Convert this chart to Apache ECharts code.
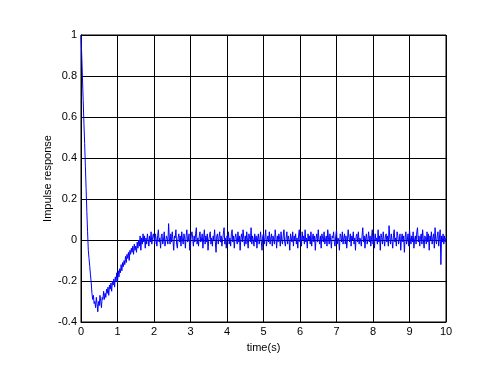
<!DOCTYPE html>
<html>
<head>
<meta charset="utf-8">
<script src="https://cdn.jsdelivr.net/npm/echarts@6/dist/echarts.min.js"></script>
<style>html,body{margin:0;padding:0;background:#fff;}#c{width:500px;height:367px;}</style>
</head>
<body>
<div id="c"></div>
<script>
// time step of the sampled response (s)
const timeStep = 0.02;
// transient part, t = 0 .. 1.98 s
const transientValues = [
  1.0, 0.9, 0.79, 0.68, 0.57, 0.47, 0.36, 0.25, 0.14, 0.04,
  -0.05, -0.09, -0.13, -0.17, -0.21, -0.26, -0.29, -0.27, -0.31, -0.3,
  -0.33, -0.28, -0.31, -0.35, -0.3, -0.32, -0.27, -0.3, -0.33, -0.28,
  -0.29, -0.25, -0.29, -0.26, -0.28, -0.24, -0.26, -0.23, -0.27, -0.22,
  -0.24, -0.21, -0.25, -0.2, -0.22, -0.19, -0.23, -0.18, -0.2, -0.16,
  -0.21, -0.15, -0.18, -0.14, -0.16, -0.12, -0.15, -0.11, -0.13, -0.1,
  -0.12, -0.08, -0.11, -0.07, -0.09, -0.06, -0.1, -0.05, -0.07, -0.04,
  -0.06, -0.03, -0.07, -0.02, -0.05, -0.03, -0.06, -0.01, -0.04, 0.0,
  -0.03, 0.02, -0.05, 0.01, -0.02, 0.03, -0.01, 0.02, -0.04, 0.01,
  -0.02, 0.03, 0.0, -0.03, 0.02, -0.01, 0.04, -0.02, 0.01, 0.03
];
// steady-state noise, t = 2.00 .. 10.00 s
const steadyValues = [
  0.01, -0.02, 0.03, 0.00, -0.03, 0.02, 0.05, -0.01, 0.01, -0.04, 0.02, 0.03, -0.02, 0.00, 0.04, -0.03, -0.01, 0.02, 0.01, -0.02,
  0.08, 0.01, -0.02, 0.03, -0.01, 0.04, 0.00, -0.05, 0.02, 0.01, 0.05, -0.02, -0.04, 0.01, 0.03, -0.01, 0.02, -0.03, 0.04, 0.00,
  -0.02, 0.03, 0.01, -0.04, 0.02, 0.05, -0.01, 0.00, 0.03, -0.05, -0.02, 0.02, 0.04, 0.01, -0.03, 0.02, -0.01, 0.03, 0.06, -0.02,
  0.01, -0.03, 0.02, 0.04, -0.01, 0.00, 0.03, -0.04, 0.01, 0.05, -0.02, 0.02, -0.01, 0.03, -0.05, 0.00, 0.02, 0.04, -0.02, 0.01,
  -0.03, 0.02, 0.00, 0.05, -0.01, -0.06, 0.02, 0.03, -0.02, 0.01, 0.04, -0.01, 0.02, -0.03, 0.00, 0.03, 0.06, -0.02, 0.01, -0.04,
  0.02, 0.00, 0.04, -0.02, 0.01, -0.03, 0.03, 0.05, -0.01, 0.02, -0.04, 0.01, 0.03, 0.00, -0.02, 0.04, -0.01, 0.02, -0.05, 0.01,
  0.03, -0.01, 0.05, 0.01, -0.03, 0.02, -0.02, 0.04, 0.00, -0.04, 0.03, 0.01, -0.01, 0.06, -0.02, 0.02, 0.00, -0.03, 0.03, -0.01,
  0.02, -0.04, 0.01, 0.03, -0.02, 0.00, 0.04, -0.01, -0.05, 0.02, 0.03, -0.02, 0.01, 0.05, -0.03, 0.00, 0.02, -0.01, 0.04, -0.02,
  0.01, 0.03, -0.03, 0.02, 0.00, -0.02, 0.05, 0.01, -0.04, 0.02, -0.01, 0.03, 0.01, -0.03, 0.04, 0.00, -0.02, 0.02, 0.05, -0.01,
  -0.03, 0.01, 0.04, -0.02, 0.02, 0.00, -0.05, 0.03, 0.01, -0.01, 0.04, -0.03, 0.02, 0.00, 0.03, -0.02, 0.01, -0.04, 0.02, 0.05,
  -0.01, 0.02, -0.03, 0.04, 0.00, 0.02, -0.02, 0.05, -0.01, 0.01, -0.04, 0.03, 0.00, 0.02, -0.02, 0.04, -0.03, 0.01, 0.03, -0.01,
  0.02, -0.05, 0.01, 0.03, -0.01, 0.05, 0.00, -0.02, 0.02, -0.04, 0.03, 0.01, -0.01, 0.04, -0.02, 0.00, 0.02, -0.03, 0.05, 0.01,
  -0.02, 0.03, 0.00, -0.04, 0.02, 0.01, 0.04, -0.01, -0.03, 0.02, 0.05, -0.02, 0.01, 0.00, -0.05, 0.03, 0.02, -0.01, 0.04, -0.02,
  0.01, 0.03, -0.02, 0.02, -0.04, 0.00, 0.05, 0.01, -0.01, 0.03, -0.03, 0.02, 0.00, 0.04, -0.02, 0.01, -0.05, 0.02, 0.03, -0.01,
  0.04, -0.02, 0.01, 0.00, -0.03, 0.02, 0.06, -0.01, 0.02, -0.04, 0.01, 0.03, -0.02, 0.00, 0.04, -0.01, 0.02, -0.03, 0.01, 0.05,
  -0.02, 0.02, -0.04, 0.03, 0.00, 0.01, -0.02, 0.05, -0.01, 0.02, -0.05, 0.03, 0.01, -0.02, 0.04, 0.00, -0.03, 0.02, 0.03, -0.01,
  0.02, -0.03, 0.07, 0.01, -0.02, 0.03, 0.00, -0.04, 0.02, 0.05, -0.01, 0.01, -0.03, 0.04, 0.02, -0.02, 0.00, 0.03, -0.05, 0.01,
  0.03, -0.01, 0.02, -0.06, 0.01, 0.04, -0.02, 0.00, 0.03, -0.03, 0.05, 0.01, -0.02, 0.02, -0.01, 0.04, -0.04, 0.00, 0.02, -0.02,
  0.04, 0.06, -0.01, 0.02, -0.03, 0.01, 0.03, -0.02, 0.05, 0.00, -0.04, 0.02, 0.01, -0.02, 0.04, -0.01, 0.03, -0.05, 0.02, 0.00,
  0.04, -0.02, 0.01, 0.03, -0.04, 0.06, 0.00, -0.02, 0.02, 0.04, -0.03, 0.01, 0.05, -0.12, 0.02, -0.01, 0.03, -0.02, 0.02, -0.01,
  0.01
];
// axis tick settings
const xTicks = [0, 1, 2, 3, 4, 5, 6, 7, 8, 9, 10];
const yTicks = [-0.4, -0.2, 0, 0.2, 0.4, 0.6, 0.8, 1];
const xLabel = 'time(s)';
const yLabel = 'Impulse response';

const responseValues = transientValues.concat(steadyValues);
const seriesData = responseValues.map((v, i) => [+(i * timeStep).toFixed(2), v]);

const font = 'Liberation Sans, Arial, sans-serif';
const chart = echarts.init(document.getElementById('c'), null, {renderer: 'canvas'});
chart.setOption({
  animation: false,
  backgroundColor: '#fff',
  grid: {left: 81, right: 54, top: 35, bottom: 45, show: true, borderColor: '#000', borderWidth: 1, backgroundColor: '#fff'},
  xAxis: {
    type: 'value', min: xTicks[0], max: xTicks[xTicks.length - 1], interval: 1,
    name: xLabel, nameLocation: 'middle', nameGap: 20, nameMoveOverlap: false,
    nameTextStyle: {color: '#000', fontSize: 11, fontFamily: font},
    axisLine: {show: true, onZero: false, lineStyle: {color: '#000', width: 1}},
    axisTick: {show: true, inside: true, length: 4, lineStyle: {color: '#000'}},
    axisLabel: {color: '#000', fontSize: 11, fontFamily: font, margin: 4, formatter: v => String(v)},
    splitLine: {show: true, lineStyle: {color: '#000', width: 1}}
  },
  yAxis: {
    type: 'value', min: yTicks[0], max: yTicks[yTicks.length - 1], interval: 0.2,
    name: yLabel, nameLocation: 'middle', nameGap: 28, nameRotate: 90, nameMoveOverlap: false,
    nameTextStyle: {color: '#000', fontSize: 11, fontFamily: font},
    axisLine: {show: true, lineStyle: {color: '#000', width: 1}},
    axisTick: {show: true, inside: true, length: 4, lineStyle: {color: '#000'}},
    axisLabel: {color: '#000', fontSize: 11, fontFamily: font, margin: 4,
      formatter: v => String(Math.round(v * 10) / 10)},
    splitLine: {show: true, lineStyle: {color: '#000', width: 1}}
  },
  series: [{
    type: 'line', data: seriesData, showSymbol: false, symbol: 'none',
    lineStyle: {color: '#0000ff', width: 1}, z: 5
  }]
});
</script>
</body>
</html>
